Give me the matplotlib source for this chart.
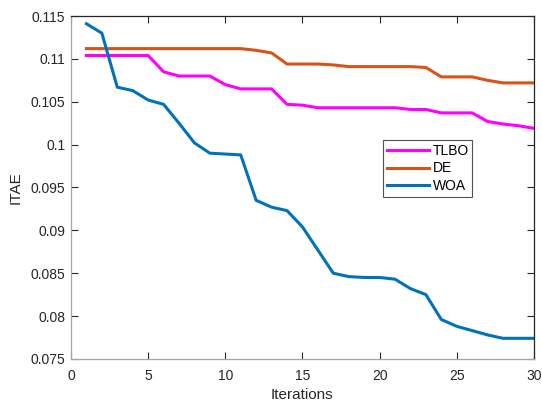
import matplotlib
matplotlib.use('Agg')
import matplotlib.pyplot as plt
from matplotlib.ticker import FormatStrFormatter, MultipleLocator

plt.rcParams['font.family'] = ['Liberation Sans', 'DejaVu Sans']

# convergence data
iterations = list(range(1, 31))
tlbo = [0.1104, 0.1104, 0.1104, 0.1104, 0.1104, 0.1085, 0.1080, 0.1080, 0.1080, 0.1070,
        0.1065, 0.1065, 0.1065, 0.1047, 0.1046, 0.1043, 0.1043, 0.1043, 0.1043, 0.1043,
        0.1043, 0.1041, 0.1041, 0.1037, 0.1037, 0.1037, 0.1027, 0.1024, 0.1022, 0.1019]
de = [0.1112, 0.1112, 0.1112, 0.1112, 0.1112, 0.1112, 0.1112, 0.1112, 0.1112, 0.1112,
      0.1112, 0.1110, 0.1107, 0.1094, 0.1094, 0.1094, 0.1093, 0.1091, 0.1091, 0.1091,
      0.1091, 0.1091, 0.1090, 0.1079, 0.1079, 0.1079, 0.1075, 0.1072, 0.1072, 0.1072]
woa = [0.1141, 0.1130, 0.1067, 0.1063, 0.1052, 0.1047, 0.1025, 0.1002, 0.0990, 0.0989,
       0.0988, 0.0935, 0.0927, 0.0923, 0.0904, 0.0877, 0.0850, 0.0846, 0.0845, 0.0845,
       0.0843, 0.0832, 0.0825, 0.0796, 0.0788, 0.0783, 0.0778, 0.0774, 0.0774, 0.0774]

series = [('TLBO', tlbo, '#FF00FF'), ('DE', de, '#D95319'), ('WOA', woa, '#0072BD')]

fig = plt.figure(figsize=(5.42, 4.01), dpi=100)
ax = fig.add_axes([0.131, 0.105, 0.854, 0.855])

for name, vals, col in series:
    ax.plot(iterations, vals, color=col, linewidth=2.2, label=name)

ax.set_xlim(0, 30)
ax.set_ylim(0.075, 0.115)
ax.xaxis.set_major_locator(MultipleLocator(5))
ax.yaxis.set_major_locator(MultipleLocator(0.005))
ax.yaxis.set_major_formatter(FormatStrFormatter('%g'))

ax.tick_params(direction='in', length=5, width=0.8, top=True, right=True,
               labelsize=10, colors='#262626', pad=4)
ax.tick_params(axis='x', pad=7)
ax.spines['left'].set_color('#a6a6a6')
ax.spines['bottom'].set_color('#a6a6a6')
ax.spines['top'].set_color('#262626')
ax.spines['right'].set_color('#262626')
for s in ax.spines.values():
    s.set_linewidth(0.9)

ax.set_xlabel('Iterations', fontsize=11, color='#262626', labelpad=4)
ax.set_ylabel('ITAE', fontsize=11, color='#262626', labelpad=6)

leg = ax.legend(loc='lower left', bbox_to_anchor=(0.674, 0.472, 0.192, 0.155), mode='expand',
                fontsize=10, frameon=True, fancybox=False, borderpad=0.3, labelspacing=0.25,
                handlelength=3.0, handletextpad=0.3, borderaxespad=0)
leg.get_frame().set_edgecolor('#262626')
leg.get_frame().set_linewidth(0.8)

fig.savefig('out.png', dpi=100)
